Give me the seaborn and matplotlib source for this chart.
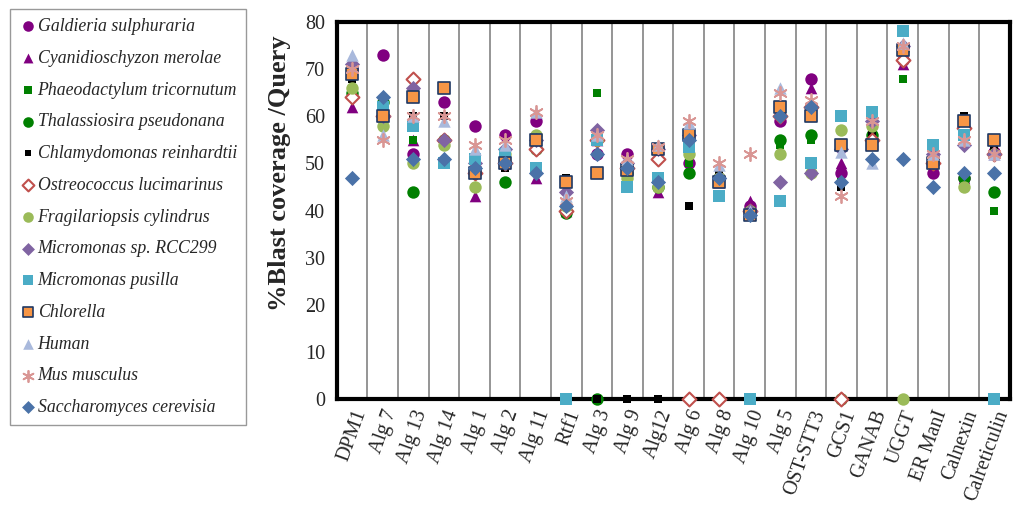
import pandas as pd
import numpy as np
import matplotlib
matplotlib.use("Agg")
from matplotlib import pyplot as plt
import seaborn as sns

# categorias (genes)
genes = ['DPM1', 'Alg 7', 'Alg 13', 'Alg 14', 'Alg 1', 'Alg 2', 'Alg 11', 'Rtf1',
         'Alg 3', 'Alg 9', 'Alg12', 'Alg 6', 'Alg 8', 'Alg 10', 'Alg 5', 'OST-STT3',
         'GCS1', 'GANAB', 'UGGT', 'ER ManI', 'Calnexin', 'Calreticulin']

# valores de cada especie
galdieria = [70, 73, 52, 63, 58, 56, 59, 40, 52, 52, 53, 50, 47, 41, 59, 68, 48, 55, 72, 48, 47, 52.5]
cyanidio = [62, 60, 55, 55, 43, 50, 47, 40, 55, 48, 44, 49, 46, 42, 60, 66, 50, 55, 71, 49, 47, 52]
phaeo = [68, 60, 55, 55, 48, 50, 53, 40, 65, 47, 47, 50, 46, 40, 54, 55, 46, 55, 68, 50, 47, 40]
thalass = [65, 63, 44, 55, 48, 46, 53, 39.5, 0, 48, 45, 48, 47, 40, 55, 56, 0, 56, 74, 50, 47, 44]
chlamy = [68, 60, 60, 60, 50, 49, 53, 47, 0, 0, 0, 41, 48, 40, 60, 60, 45, 56, 74, 50, 60, 53.5]
ostreo = [64, 60, 68, 55, 48, 50, 53, 40, 55, 49, 51, 0, 0, 40, 60, 62, 0, 55, 72, 50, 57.5, 52]
fragil = [66, 58, 50, 54, 45, 52, 56, 41, 55, 47, 45, 52, 47, 40, 52, 48, 57, 58, 0, 51, 45, 52]
rcc299 = [71, 60, 66, 55, 50, 53, 55, 44, 57, 50, 53, 56, 47, 40, 46, 48, 53, 59, 75, 52, 54, 52]
pusilla = [69, 62, 58, 50, 51, 52, 49, 0, 55, 45, 47, 53.5, 43, 0, 42, 50, 60, 61, 78, 54, 56, 0]
chlorella = [69, 60, 64, 66, 48, 50, 55, 46, 48, 48.5, 53, 56, 46, 39, 62, 60, 54, 54, 74, 50, 59, 55]
human = [73, 56, 60, 59, 53, 54, 61, 43, 56, 51, 54, 58.5, 49.7, 40, 66, 63, 52.5, 50, 75.5, 52, 55, 52]
mus = [70, 55, 60, 60, 54, 55, 61, 42, 56, 51, 53.5, 59, 50, 52, 65, 63.5, 43, 59, 75, 52, 55, 52]
saccharo = [47, 64, 51, 51, 49, 50, 48, 41, 52, 49, 46, 55, 47, 39, 60, 62, 46, 51, 51, 45, 48, 48]

especies = ['Galdieria sulphuraria', 'Cyanidioschyzon merolae', 'Phaeodactylum tricornutum',
            'Thalassiosira pseudonana', 'Chlamydomonas reinhardtii', 'Ostreococcus lucimarinus',
            'Fragilariopsis cylindrus', 'Micromonas sp. RCC299', 'Micromonas pusilla',
            'Chlorella', 'Human', 'Mus musculus', 'Saccharomyces cerevisia']
valores = [galdieria, cyanidio, phaeo, thalass, chlamy, ostreo, fragil, rcc299, pusilla,
           chlorella, human, mus, saccharo]

# estilo de cada serie: marcador, tamanho, cor, borda, espessura da borda
estilos = [
    ('o', 80, '#800080', '#800080', 0),
    ('^', 70, '#800080', '#800080', 0),
    ('s', 40, '#008000', '#008000', 0),
    ('o', 80, '#008000', '#008000', 0),
    ('s', 28, '#000000', '#000000', 0),
    ('D', 50, 'white', '#C0504D', 1.5),
    ('o', 80, '#9BBB59', '#9BBB59', 0),
    ('D', 60, '#8064A2', '#8064A2', 0),
    ('s', 80, '#4BACC6', '#4BACC6', 0),
    ('s', 75, '#F79646', '#1F3864', 1.2),
    ('^', 80, '#A9B9DC', '#A9B9DC', 0),
    ((6, 2, 0), 90, '#D99694', '#D99694', 1.3),
    ('D', 60, '#4A72A8', '#4A72A8', 0),
]

sns.set_style('white')
plt.rcParams['font.family'] = ['Liberation Serif', 'DejaVu Serif']

fig = plt.figure(figsize=(10.24, 5.11), dpi=100)
ax = fig.add_axes([0.329, 0.219, 0.657, 0.738])

for nome, vals, (m, s, cor, borda, lw) in zip(especies, valores, estilos):
    df = pd.DataFrame({'Gene': genes, 'Cobertura': vals})
    sns.scatterplot(data=df, x='Gene', y='Cobertura', ax=ax, marker=m, s=s,
                    color=cor, edgecolor=borda, linewidth=lw, label=nome,
                    clip_on=False, zorder=3)

ax.set_xlim(-0.5, len(genes) - 0.5)
ax.set_ylim(0, 80)
ax.set_yticks(range(0, 81, 10))
ax.set_xticks(np.arange(-0.5, len(genes), 1.0), minor=True)
ax.set_xticks(range(len(genes)))
ax.set_xticklabels(genes, rotation=70, ha='right', rotation_mode='anchor', fontsize=14.5)
ax.tick_params(axis='x', which='major', length=0, pad=6)
ax.tick_params(axis='x', which='minor', length=5, color='#808080', width=1, direction='out')
ax.tick_params(axis='y', length=5, color='#808080', width=1, direction='out', labelsize=14.5)
ax.grid(False)
ax.grid(True, axis='x', which='minor', color='#8c8c8c', linewidth=1.3, zorder=0)
ax.set_axisbelow(True)
for sp in ax.spines.values():
    sp.set_color('black')
    sp.set_linewidth(3)
ax.set_xlabel('')
ax.set_ylabel('%Blast coverage /Query', fontsize=19, fontweight='bold')
ax.yaxis.set_label_coords(-0.068, 0.6)

handles, labels = ax.get_legend_handles_labels()
ax.legend_.remove()
leg = fig.legend(handles, labels, loc='upper left', bbox_to_anchor=(0.0098, 0.982),
                 frameon=True, fancybox=False, edgecolor='#808080',
                 prop={'family': 'Liberation Serif', 'style': 'italic', 'size': 12.8},
                 labelspacing=0.83, handletextpad=0.05, handlelength=1.0,
                 borderpad=0.5, borderaxespad=0, markerscale=0.85)
leg.get_frame().set_linewidth(1)

plt.savefig('out.png', dpi=100)
